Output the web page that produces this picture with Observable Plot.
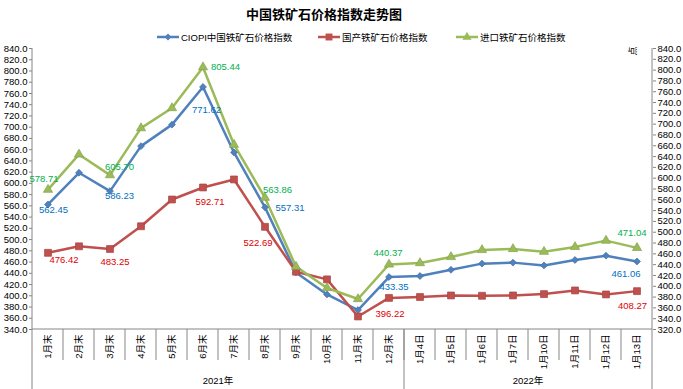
<!DOCTYPE html>
<html><head><meta charset="utf-8">
<script src="https://cdn.jsdelivr.net/npm/d3@7"></script>
<script src="https://cdn.jsdelivr.net/npm/@observablehq/plot@0.6"></script>
<style>
body{margin:0;background:#fff;}
#wrap{position:relative;width:683px;height:389px;overflow:hidden;font-family:"Liberation Sans","Noto Sans CJK SC",sans-serif;}
#chart{position:absolute;left:0;top:0;}
#title{position:absolute;left:0;top:4px;width:648px;text-align:center;font:bold 13px "Noto Sans CJK SC",sans-serif;color:#000;}
.leg{position:absolute;top:30px;height:14px;display:flex;align-items:center;font-size:9.5px;color:#000;white-space:nowrap;font-family:"Liberation Sans","Noto Sans CJK SC",sans-serif;}
.leg svg{margin-right:2px;}
#unit{position:absolute;left:627px;top:45px;width:12px;height:12px;line-height:12px;text-align:center;font-size:9px;transform:rotate(-90deg);font-family:"Noto Sans CJK SC",sans-serif;}
</style>
</head><body>
<div id="wrap">
<div id="chart"></div>
<div id="title">中国铁矿石价格指数走势图</div>
<div id="legend"></div>
<div id="unit">点</div>
</div>
<script>
// ---- data ----
const categories = ["1月末","2月末","3月末","4月末","5月末","6月末","7月末","8月末","9月末","10月末","11月末","12月末",
  "1月4日","1月5日","1月6日","1月7日","1月10日","1月11日","1月12日","1月13日"];
const groupLabels = ["2021年","2022年"];
const groupSizes = [12, 8];
const seriesNames = ["CIOPI中国铁矿石价格指数","国产铁矿石价格指数","进口铁矿石价格指数"];
const ciopi    = [562.45,618.9,586.23,666.3,704.5,771.62,655.0,557.31,441.6,402.4,374.6,433.35,435.2,446.2,457.2,459.0,454.0,463.7,471.4,461.06];
const domestic = [476.42,488.0,483.25,523.7,571.3,592.71,607.0,522.69,442.9,429.2,363.2,396.22,397.8,400.6,400.0,400.6,403.0,409.5,402.4,408.27];
const imported = [578.71,644.0,605.70,692.7,729.8,805.44,662.0,563.86,436.3,396.8,376.4,440.37,443.0,454.2,467.2,469.0,464.0,472.8,484.5,471.04];
const leftTicks  = [340,360,380,400,420,440,460,480,500,520,540,560,580,600,620,640,660,680,700,720,740,760,780,800,820,840];
const rightTicks = [320,340,360,380,400,420,440,460,480,500,520,540,560,580,600,620,640,660,680,700,720,740,760,780,800,820,840];
const labeledIndex = [0,2,5,7,11,19];

// ---- styling ----
const colors = ["#4F81BD","#C0504D","#9BBB59"];
const labelColors = ["#0070C0","#E00000","#00B050"];
const symbols = ["diamond2","square","triangle"];
const symbolR = [3.1,3.9,3.4];
// label offsets (dx, dy) per series, same order as labeledIndex
const labelOffsets = [
  [[5.5,5],[9.5,5],[3.5,23],[25,1],[5,10],[-11,12]],
  [[16,7],[5,12.5],[7,14],[-7,16],[1,16],[-4.5,15]],
  [[-4,-11],[9.5,-8.5],[22.5,0],[12.5,-8],[-1,-12],[-5,-14.5]]
];
const legendLeft = [157, 318, 456];

// secondary axis (right, 320–840) mapped onto primary (left, 340–840)
const L0 = 340, L1 = 840, R0 = 320, R1 = 840;
const toLeft = v => L0 + (v - R0) * (L1 - L0) / (R1 - R0);
const fromLeft = y => R0 + (y - L0) * (R1 - R0) / (L1 - L0);

const seriesValues = [ciopi, domestic, imported];
const rows = [];
seriesValues.forEach((vals, s) => vals.forEach((v, i) => rows.push({
  s, cat: categories[i], i, v, y: s === 2 ? toLeft(v) : v
})));
const labelRows = [];
seriesValues.forEach((vals, s) => labeledIndex.forEach((i, k) => labelRows.push({
  s, cat: categories[i], v: vals[i], y: s === 2 ? toLeft(vals[i]) : vals[i],
  dx: labelOffsets[s][k][0], dy: labelOffsets[s][k][1]
})));

const font = '"Liberation Sans","Noto Sans CJK SC",sans-serif';

function decor(index, scales, values, dims) {
  const g = d3.create("svg:g").attr("font-family", font);
  const x0 = dims.marginLeft, x1 = dims.width - dims.marginRight;
  const yb = dims.height - dims.marginBottom, yt = dims.marginTop;
  const bw = (x1 - x0) / categories.length;
  const stroke = "#868686";
  g.append("line").attr("x1", x0).attr("x2", x0).attr("y1", yt).attr("y2", dims.height).attr("stroke", stroke);
  g.append("line").attr("x1", x1).attr("x2", x1).attr("y1", yt).attr("y2", dims.height).attr("stroke", stroke);
  g.append("line").attr("x1", x0).attr("x2", x1).attr("y1", yb).attr("y2", yb).attr("stroke", stroke);
  for (let k = 1; k < categories.length; k++) {
    g.append("line").attr("x1", x0 + k * bw).attr("x2", x0 + k * bw)
      .attr("y1", yb).attr("y2", yb + 31).attr("stroke", stroke);
  }
  let start = 0;
  groupSizes.forEach((n, gi) => {
    const end = start + n;
    if (end < categories.length)
      g.append("line").attr("x1", x0 + end * bw).attr("x2", x0 + end * bw)
        .attr("y1", yb).attr("y2", dims.height).attr("stroke", stroke);
    g.append("text").attr("x", x0 + (start + end) / 2 * bw).attr("y", dims.height - 5)
      .attr("text-anchor", "middle").attr("font-size", 9.5).attr("fill", "#000").text(groupLabels[gi]);
    start = end;
  });
  return g.node();
}

const plot = Plot.plot({
  width: 683,
  height: 389,
  marginLeft: 32,
  marginRight: 31,
  marginTop: 48,
  marginBottom: 60,
  style: {fontFamily: font, background: "#fff", overflow: "visible"},
  x: {type: "band", domain: categories, padding: 0, axis: null},
  y: {domain: [L0, L1], axis: null},
  marks: [
    Plot.axisY({ticks: leftTicks, tickFormat: d => d.toFixed(1), tickSize: 3, tickPadding: 2,
      fontSize: 9.5, stroke: "#868686", fill: "#000", anchor: "left", label: null}),
    Plot.axisY({ticks: rightTicks.map(toLeft), tickFormat: d => fromLeft(d).toFixed(1), tickSize: 3, tickPadding: 2,
      fontSize: 9.5, stroke: "#868686", fill: "#000", anchor: "right", label: null}),
    decor,
    Plot.text(categories, {x: d => d, frameAnchor: "bottom", rotate: -90, textAnchor: "end",
      dy: 5, fontSize: 9.5, fill: "#000", lineAnchor: "middle"}),
    ...[0,1,2].map(s => Plot.line(rows.filter(r => r.s === s), {x: "cat", y: "y", stroke: colors[s], strokeWidth: 2.5})),
    ...[0,1,2].map(s => Plot.dot(rows.filter(r => r.s === s), {x: "cat", y: "y", symbol: () => symbols[s],
      r: symbolR[s], fill: colors[s], stroke: d3.color(colors[s]).darker(0.4).formatHex(), strokeWidth: 0.7})),
    ...labelRows.map(r => Plot.text([r], {x: "cat", y: "y", text: d => d.v.toFixed(2),
      dx: r.dx, dy: r.dy, fill: labelColors[r.s], fontSize: 9.5})),
  ]
});
document.getElementById("chart").appendChild(plot);

// ---- legend ----
const legend = document.getElementById("legend");
const symPath = [
  d3.symbol(d3.symbolDiamond2, 30)(),
  d3.symbol(d3.symbolSquare, 48)(),
  d3.symbol(d3.symbolTriangle, 36)()
];
seriesNames.forEach((name, s) => {
  const item = document.createElement("div");
  item.className = "leg";
  item.style.left = legendLeft[s] + "px";
  const sw = d3.create("svg").attr("width", 22).attr("height", 12);
  sw.append("line").attr("x1", 0).attr("x2", 22).attr("y1", 6).attr("y2", 6)
    .attr("stroke", colors[s]).attr("stroke-width", 2.5);
  sw.append("path").attr("d", symPath[s]).attr("transform", "translate(11,6)").attr("fill", colors[s]);
  item.appendChild(sw.node());
  const t = document.createElement("span");
  t.textContent = name;
  item.appendChild(t);
  legend.appendChild(item);
});
</script>
</body></html>
